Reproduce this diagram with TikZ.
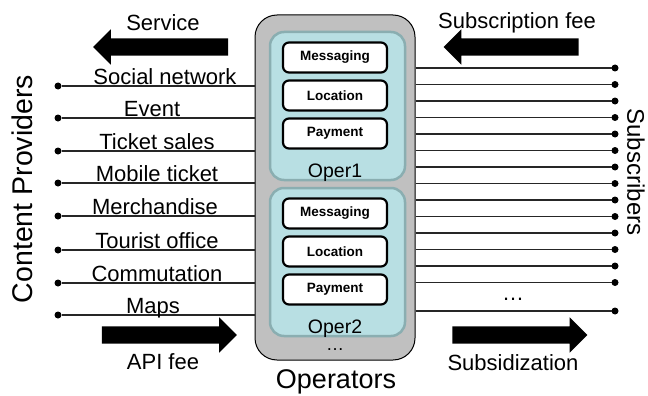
\documentclass[tikz,border=0pt]{standalone}
\usepackage{fontspec}
\setmainfont{Liberation Sans}
\usetikzlibrary{shapes.arrows}
\definecolor{opgray}{RGB}{192,192,192}
\definecolor{opteal}{RGB}{184,223,227}
\definecolor{opedge}{RGB}{138,174,177}
\tikzstyle{dot}=[circle, fill=black, minimum size=7pt,
                 inner sep=0pt, outer sep=0pt]
\tikzstyle{link}=[line width=1.2pt, black!85]
\tikzstyle{operators}=[draw, fill=opgray, rounded corners=22pt,
                       line width=1pt, minimum width=160pt,
                       minimum height=345pt]
\tikzstyle{oper}=[draw=opedge, fill=opteal, rounded corners=14pt,
                  line width=2.5pt, minimum width=135pt,
                  minimum height=148pt]
\tikzstyle{api}=[draw, fill=white, rounded corners=6pt,
                 line width=2.2pt, minimum width=104pt,
                 minimum height=30pt, inner sep=0pt,
                 font=\fontsize{13.5}{15}\selectfont\bfseries]
\tikzstyle{flow}=[single arrow, fill=black, minimum height=135pt,
                  single arrow head extend=9pt, inner sep=0pt]
\tikzstyle{lbl}=[font=\fontsize{22}{24}\selectfont, inner sep=0pt]
\newcommand{\shaft}{\rule{0pt}{17pt}}

\begin{document}
\begin{tikzpicture}[x=1pt, y=-1pt]
    \useasboundingbox (0,0) rectangle (648,396);

    % operators column
    \node (ops) at (335,187.5) [operators]{};
    \node (oper1) at (337.5,106) [oper]{};
    \node (oper2) at (337.5,262) [oper]{};
    \foreach \o/\d in {1/0,2/156} {
      \node (msg\o) at (335,{57.5+\d})  [api]{Messaging};
      \node (loc\o) at (335,{95.5+\d})  [api]{Location};
      \node (pay\o) at (335,{133.5+\d}) [api]{Payment};
      \node (name\o) at (335,{177+\d}) [lbl, anchor=base,
            font=\fontsize{19.5}{21}\selectfont]{Oper\o};
    }
    \node (opdots) at (335,350) [lbl, anchor=base,
          font=\fontsize{18}{20}\selectfont]{\dots};
    \node (optitle) at (336,382) [lbl, font=\fontsize{27}{29}\selectfont]{Operators};

    % content providers
    \foreach \i/\y/\x/\txt in {1/86/165/Social network, 2/118/152/Event,
        3/151/157/Ticket sales, 4/183/157/Mobile ticket,
        5/216/155/Merchandise, 6/250/157/Tourist office,
        7/283/157/Commutation, 8/315/153/Maps} {
      \node (cp\i) at (58,\y) [dot]{};
      \draw [link] (cp\i) -- (cp\i -| ops.west);
      \node (cpl\i) at (\x,\y-1.5) [lbl, anchor=base]{\txt};
    }
    \node (cptitle) at (22,189) [lbl, rotate=90,
          font=\fontsize{28.5}{30}\selectfont]{Content Providers};

    % subscribers
    \foreach \i in {0,...,13} {
      \node (sub\i) at (615,{68+16.5*\i}) [dot]{};
      \draw [link] (sub\i -| ops.east) -- (sub\i);
    }
    \node (sub14) at (615,311) [dot]{};
    \draw [link] (sub14 -| ops.east) -- (sub14);
    \node (subdots) at (513,300) [lbl, anchor=base]{\dots};
    \node (subtitle) at (636,172) [lbl, rotate=-90,
          font=\fontsize{24}{26}\selectfont]{Subscribers};

    % money and service flows
    \node (service) at (165,47) [flow, shape border rotate=180]{\shaft};
    \node (subfee) at (515.5,47) [flow, shape border rotate=180]{\shaft};
    \node (apifee) at (165,335) [flow]{\shaft};
    \node (subsid) at (515.5,335) [flow]{\shaft};
    \node (servicel) at (163,23) [lbl]{Service};
    \node (subfeel) at (517,23) [lbl]{Subscription fee};
    \node (apifeel) at (163,362) [lbl]{API fee};
    \node (subsidl) at (513,363) [lbl]{Subsidization};
\end{tikzpicture}
\end{document}
